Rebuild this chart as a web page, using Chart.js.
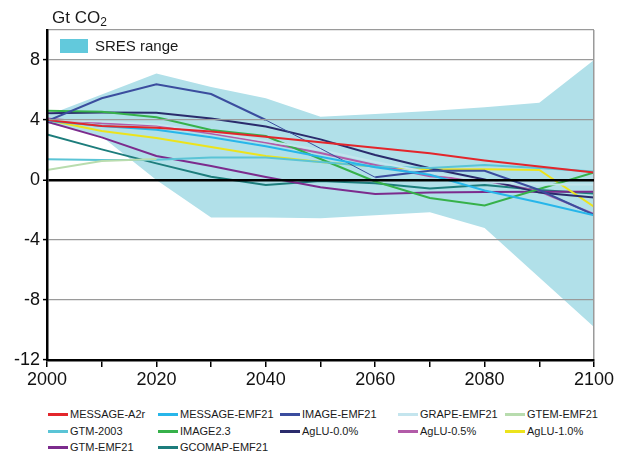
<!DOCTYPE html>
<html>
<head>
<meta charset="utf-8">
<script src="https://cdn.jsdelivr.net/npm/chart.js@4.4.0/dist/chart.umd.min.js"></script>
<style>
  html, body { margin: 0; padding: 0; background: #fff; }
  body { font-family: 'Liberation Sans', Arial, sans-serif; color: #1a1a1a; }
  #wrap { position: relative; width: 620px; height: 453px; overflow: hidden; }
  #emissions-chart { position: absolute; left: 0; top: 0; }
  .unit { position: absolute; left: 52px; top: 8px; font-size: 17px; line-height: 20px; }
  .unit sub { font-size: 12px; position: relative; top: 3px; vertical-align: baseline; }
  .sres-key { position: absolute; left: 60px; top: 39px; font-size: 15px; line-height: 14px; white-space: nowrap; }
  .sres-key i { display: inline-block; width: 28px; height: 14px; background: #62c9dc; vertical-align: top; margin-right: 7px; }
  .legend-item { position: absolute; font-size: 11px; line-height: 13px; white-space: nowrap; }
  .legend-item i { display: inline-block; width: 20px; height: 3px; vertical-align: middle; margin-right: 2px; position: relative; top: -1px; }
</style>
</head>
<body>
<div id="wrap">
  <canvas id="emissions-chart" width="620" height="400"></canvas>
  <div class="unit">Gt CO<sub>2</sub></div>
  <div class="sres-key"><i></i>SRES range</div>
  <div id="legend"></div>
</div>
<script>
// decades on the x axis
const years = [2000, 2010, 2020, 2030, 2040, 2050, 2060, 2070, 2080, 2090, 2100];
const xTickLabels = [2000, 2020, 2040, 2060, 2080, 2100];
const yTickLabels = [-12, -8, -4, 0, 4, 8];

// SRES band (lower / upper edge)
const sresLow  = [3.8, 2.9, 0.0, -2.5, -2.5, -2.55, -2.35, -2.15, -3.2, -6.5, -9.8];
const sresHigh = [4.3, 5.7, 7.1, 6.2, 5.45, 4.22, 4.4, 4.6, 4.85, 5.15, 8.0];

// Gt CO2 per scenario
const messageA2r   = [4.0, 3.6, 3.49, 3.24, 2.89, 2.52, 2.15, 1.78, 1.3, 0.9, 0.5];
const messageEmf21 = [3.95, 3.6, 3.35, 2.85, 2.25, 1.55, 0.85, 0.35, -0.7, -1.5, -2.35];
const imageEmf21   = [3.93, 5.45, 6.38, 5.73, 4.0, 2.1, 0.18, 0.62, 0.62, -0.67, -2.33];
const grapeEmf21   = [4.0, 3.9, 3.7, 3.2, 2.6, 2.0, 1.2, 0.5, -0.1, -0.3, -0.3];
const gtemEmf21    = [0.67, 1.27, 1.4, null, null, null, null, null, null, null, null];
const gtm2003      = [1.38, 1.33, 1.35, 1.5, 1.5, 1.2, 0.9, 0.8, 1.0, 0.8, 0.56];
const image23      = [4.62, 4.55, 4.18, 3.33, 2.93, 1.4, -0.1, -1.2, -1.7, -0.6, 0.5];
const aglu00       = [4.45, 4.5, 4.48, 4.1, 3.56, 2.71, 1.67, 0.78, 0.04, -0.84, -1.16];
const aglu05       = [4.1, 3.78, 3.64, 3.1, 2.5, 1.8, 1.0, 0.25, -0.04, -0.75, -2.27];
const aglu10       = [4.0, 3.27, 2.8, 2.2, 1.6, 1.2, 0.9, 0.7, 0.72, 0.67, -1.78];
const gtmEmf21     = [3.89, 2.84, 1.6, 0.93, 0.2, -0.49, -0.93, -0.84, -0.8, -0.78, -0.78];
const gcomapEmf21  = [3.04, 2.04, 1.11, 0.22, -0.33, -0.07, -0.22, -0.56, -0.33, -0.67, -0.9];

const seriesNames = [
  'MESSAGE-A2r', 'MESSAGE-EMF21', 'IMAGE-EMF21', 'GRAPE-EMF21', 'GTEM-EMF21',
  'GTM-2003', 'IMAGE2.3', 'AgLU-0.0%', 'AgLU-0.5%', 'AgLU-1.0%',
  'GTM-EMF21', 'GCOMAP-EMF21'
];
const seriesValues = [
  messageA2r, messageEmf21, imageEmf21, grapeEmf21, gtemEmf21,
  gtm2003, image23, aglu00, aglu05, aglu10,
  gtmEmf21, gcomapEmf21
];

const emissionsChart = {
  colors: {
    'MESSAGE-A2r': '#e3262b',
    'MESSAGE-EMF21': '#27b6ea',
    'IMAGE-EMF21': '#3b4d9e',
    'GRAPE-EMF21': '#c4e5ee',
    'GTEM-EMF21': '#b8dcae',
    'GTM-2003': '#5ac4d6',
    'IMAGE2.3': '#36b14a',
    'AgLU-0.0%': '#2a2b6c',
    'AgLU-0.5%': '#b25ba8',
    'AgLU-1.0%': '#ece31c',
    'GTM-EMF21': '#7c2b8d',
    'GCOMAP-EMF21': '#1d7d7c'
  },

  points(values) {
    return years
      .map((year, i) => ({ x: year, y: values[i] }))
      .filter(p => p.y !== null);
  },

  buildDatasets() {
    const datasets = seriesNames.map((name, i) => {
      const ds = {
        label: name,
        data: this.points(seriesValues[i]),
        borderColor: this.colors[name],
        borderWidth: 2,
        pointRadius: 0,
        fill: false
      };
      if (name === 'IMAGE-EMF21') {
        // the 2040-2060 stretch is drawn as a hairline in the source
        ds.segment = {
          borderWidth: ctx => (ctx.p0.parsed.x >= 2040 && ctx.p1.parsed.x <= 2060) ? 1 : 2
        };
      }
      return ds;
    });

    // band goes last so it's painted underneath
    datasets.push({
      label: 'SRES low',
      data: this.points(sresLow),
      borderWidth: 0,
      borderColor: 'rgba(0,0,0,0)',
      pointRadius: 0,
      fill: false
    });
    datasets.push({
      label: 'SRES range',
      data: this.points(sresHigh),
      borderWidth: 0,
      borderColor: 'rgba(0,0,0,0)',
      backgroundColor: '#b1e0e9',
      pointRadius: 0,
      fill: '-1'
    });
    return datasets;
  },

  buildLegend() {
    const cols = [48, 158, 280, 398, 505];
    const rows = [408, 425, 441];
    const legend = document.getElementById('legend');
    seriesNames.forEach((name, i) => {
      const item = document.createElement('div');
      item.className = 'legend-item';
      item.style.left = cols[i % 5] + 'px';
      item.style.top = rows[Math.floor(i / 5)] + 'px';
      item.innerHTML = `<i style="background:${this.colors[name]}"></i>${name}`;
      legend.appendChild(item);
    });
  },

  init() {
    const ctx = document.getElementById('emissions-chart');
    new Chart(ctx, {
      type: 'line',
      data: { datasets: this.buildDatasets() },
      options: {
        responsive: false,
        animation: false,
        devicePixelRatio: 1,
        layout: { padding: { top: 30, right: 26, left: 0, bottom: 0 } },
        elements: { line: { tension: 0 } },
        scales: {
          x: {
            type: 'linear',
            min: 2000,
            max: 2100,
            afterBuildTicks: scale => { scale.ticks = years.map(v => ({ value: v })); },
            afterFit: scale => { scale.height = 40; },
            border: { color: '#000', width: 2.5, z: 2 },
            grid: {
              z: 1,
              color: c => (c.tick && c.tick.value === 2100) ? '#9a9a9a' : 'rgba(0,0,0,0)',
              lineWidth: 1.5,
              tickColor: '#000',
              tickWidth: 1.5,
              tickLength: 7
            },
            ticks: {
              autoSkip: false,
              maxRotation: 0,
              padding: 2,
              color: '#111',
              font: { family: "'Liberation Sans', Arial, sans-serif", size: 18 },
              callback: v => xTickLabels.includes(v) ? String(v) : ''
            }
          },
          y: {
            min: -12,
            max: 10,
            afterBuildTicks: scale => { scale.ticks = yTickLabels.concat([10]).map(v => ({ value: v })); },
            afterFit: scale => { scale.width = 47; },
            border: { color: '#000', width: 2.5, z: 2 },
            grid: {
              z: 1,
              color: c => {
                const v = c.tick ? c.tick.value : null;
                if (v === 0) return '#000';
                if (v === -12) return 'rgba(0,0,0,0)';
                return '#9a9a9a';
              },
              lineWidth: c => (c.tick && c.tick.value === 0) ? 2.5 : 1.2,
              tickColor: c => (c.tick && c.tick.value === 10) ? 'rgba(0,0,0,0)' : '#000',
              tickWidth: 1.5,
              tickLength: 4
            },
            ticks: {
              padding: 3,
              color: '#111',
              font: { family: "'Liberation Sans', Arial, sans-serif", size: 18 },
              callback: v => v === 10 ? '' : String(v)
            }
          }
        },
        plugins: {
          legend: { display: false },
          tooltip: { enabled: false }
        }
      }
    });
    this.buildLegend();
  }
};

emissionsChart.init();
</script>
</body>
</html>
